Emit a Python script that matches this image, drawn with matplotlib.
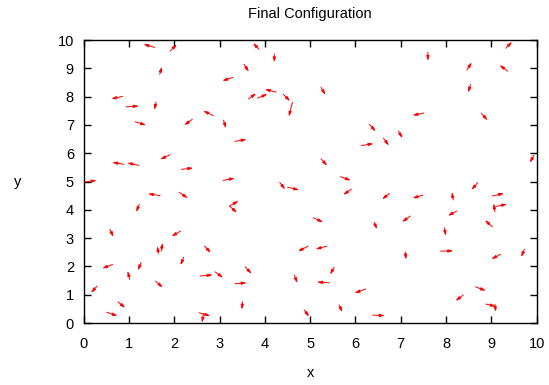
import matplotlib
matplotlib.use('Agg')
import matplotlib.pyplot as plt

# arrow tails (x0, y0) and heads (x1, y1)
x0 = [1.57, 1.91, 1.68, 3.30, 0.86, 0.94, 1.60, 1.14, 2.40, 2.86, 3.09,
      3.87, 4.21, 3.54, 3.64, 3.84, 4.25, 4.41, 4.61, 5.24, 6.31,
      9.32, 7.60, 8.46, 9.36, 8.54, 7.51, 8.78, 6.95,
      3.34, 1.91, 0.89, 1.22, 2.16, 0.01, 3.08, 1.69, 2.11, 3.22, 3.22, 1.23,
      6.13, 6.62, 5.24, 5.67, 5.91, 4.33, 4.50, 6.75, 5.07, 6.41,
      9.94, 8.70, 7.49, 8.16, 9.02, 9.08, 9.10, 8.24, 7.21, 9.02, 7.96,
      0.58, 2.14, 1.71, 1.65, 2.67, 0.64, 1.27, 2.21, 1.02, 2.57, 2.90, 1.59,
      3.34, 0.30, 0.76, 0.51, 2.55, 2.65,
      4.95, 5.37, 3.57, 4.65, 5.53, 5.42, 6.23, 3.51, 4.87, 5.64, 6.38,
      7.10, 7.88, 9.21, 9.73, 8.65, 8.38, 8.88, 9.08]
y0 = [9.74, 9.61, 8.79, 8.68, 8.01, 7.64, 7.81, 7.11, 7.20, 7.33, 7.17,
      9.67, 9.51, 9.14, 7.92, 7.95, 8.16, 8.08, 7.80, 8.33, 7.02,
      9.71, 9.57, 8.94, 8.90, 8.43, 7.42, 7.41, 6.78,
      6.42, 5.95, 5.61, 5.57, 5.43, 4.98, 5.04, 4.50, 4.62, 4.13, 4.13, 4.20,
      6.27, 6.53, 5.80, 5.17, 4.73, 4.97, 4.80, 4.58, 3.72, 3.56,
      5.93, 4.96, 4.52, 4.35, 4.49, 3.93, 4.12, 3.96, 3.78, 3.40, 3.37,
      3.31, 3.25, 2.54, 2.45, 2.72, 2.07, 2.14, 2.33, 1.54, 1.66, 1.81, 1.48,
      1.39, 1.31, 0.75, 0.38, 0.36, 0.34,
      2.71, 2.72, 1.98, 1.70, 1.97, 1.42, 1.20, 0.75, 0.46, 0.64, 0.28,
      2.51, 2.54, 2.43, 2.61, 1.28, 0.99, 0.67, 0.66]
x1 = [1.32, 2.06, 1.73, 3.06, 0.61, 1.22, 1.56, 1.38, 2.22, 2.64, 3.14,
      3.74, 4.21, 3.65, 3.81, 4.06, 4.00, 4.56, 4.53, 5.34, 6.45,
      9.46, 7.60, 8.57, 9.18, 8.49, 7.26, 8.92, 7.04,
      3.60, 1.69, 0.63, 0.96, 2.42, 0.29, 3.34, 1.42, 2.30, 3.42, 3.39, 1.16,
      6.40, 6.74, 5.38, 5.90, 5.73, 4.45, 4.76, 6.59, 5.29, 6.48,
      9.85, 8.56, 7.26, 8.13, 9.28, 9.05, 9.35, 8.04, 7.03, 8.86, 8.00,
      0.66, 1.94, 1.75, 1.63, 2.81, 0.41, 1.20, 2.14, 0.97, 2.85, 3.08, 1.75,
      3.60, 0.16, 0.92, 0.75, 2.80, 2.61,
      4.73, 5.12, 3.71, 4.72, 5.44, 5.15, 5.98, 3.49, 4.98, 5.71, 6.65,
      7.12, 8.16, 9.00, 9.66, 8.88, 8.21, 9.10, 9.10]
y1 = [9.85, 9.85, 9.06, 8.56, 7.92, 7.67, 7.53, 6.99, 6.99, 7.50, 6.88,
      9.90, 9.21, 8.88, 8.12, 8.09, 8.26, 7.84, 7.29, 8.06, 6.77,
      9.94, 9.26, 9.21, 9.12, 8.14, 7.34, 7.16, 6.53,
      6.49, 5.78, 5.68, 5.66, 5.48, 5.04, 5.12, 4.57, 4.41, 4.32, 3.90, 3.92,
      6.34, 6.27, 5.56, 5.04, 4.53, 4.72, 4.70, 4.37, 3.56, 3.31,
      5.66, 4.70, 4.41, 4.63, 4.58, 4.23, 4.20, 3.79, 3.57, 3.64, 3.08,
      3.04, 3.06, 2.84, 2.72, 2.48, 1.93, 1.86, 2.04, 1.84, 1.70, 1.60, 1.25,
      1.42, 1.07, 0.53, 0.25, 0.25, 0.01,
      2.53, 2.61, 1.74, 1.41, 1.71, 1.45, 1.06, 0.47, 0.22, 0.38, 0.26,
      2.24, 2.55, 2.26, 2.33, 1.14, 0.78, 0.59, 0.39]

ticks = list(range(0, 11))

plt.rcParams['font.family'] = ['Liberation Sans', 'DejaVu Sans']
fig = plt.figure(figsize=(5.49, 3.85), dpi=100)
ax = fig.add_axes([0.1523, 0.161, 0.8251, 0.735])

for a, b, c, d in zip(x0, y0, x1, y1):
    ax.annotate('', xy=(c, d), xytext=(a, b),
                arrowprops=dict(arrowstyle='-|>,head_length=0.4,head_width=0.12',
                                color='red', lw=0.7, mutation_scale=7,
                                shrinkA=0, shrinkB=0))

ax.set_xlim(0, 10)
ax.set_ylim(0, 10)
ax.set_xticks(ticks)
ax.set_yticks(ticks)
ax.tick_params(direction='in', length=5, width=1, top=True, right=True,
               labelsize=10.5)
ax.tick_params(axis='x', pad=10)
ax.tick_params(axis='y', pad=7)
for s in ax.spines.values():
    s.set_linewidth(1)
ax.set_title('Final Configuration', fontsize=10.5, pad=16)
ax.set_xlabel('x', fontsize=10.5, labelpad=11)
ax.set_ylabel('y', fontsize=10.5, rotation=0, va='center')
ax.yaxis.set_label_coords(-0.145, 0.5)

fig.savefig('out.png', dpi=100)
